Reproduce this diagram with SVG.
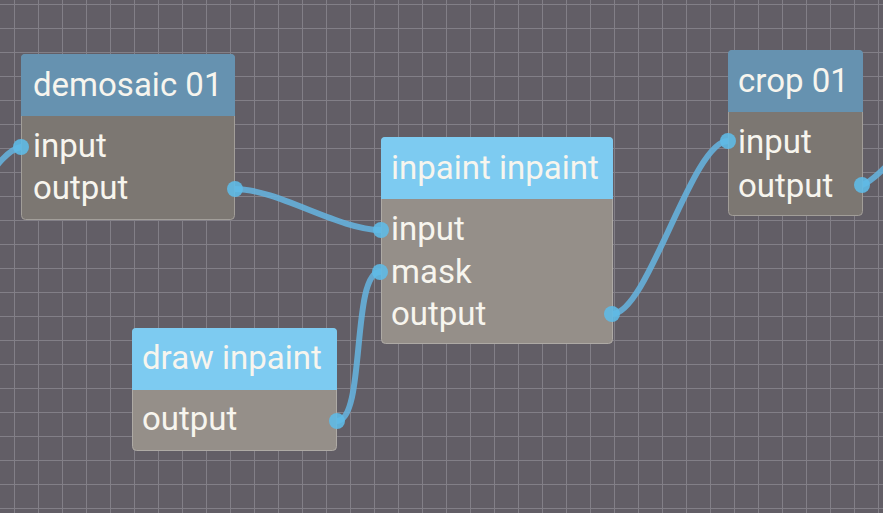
<svg xmlns="http://www.w3.org/2000/svg" width="883" height="513" viewBox="0 0 883 513">
<style>
.t{font-family:Roboto,"Noto Sans","Liberation Sans",sans-serif;font-size:33px;fill:#f7f5ee}
.hdA{fill:#6692b0}
.hdB{fill:#7dcbf1}
.bdA{fill:#7c7772;stroke:#a29e99;stroke-width:1}
.bdB{fill:#958f89;stroke:#aeaaa5;stroke-width:1}
.wire{fill:none;stroke:#65b3de;stroke-width:6;stroke-linecap:round;opacity:0.88}
.port{fill:#5fbae6;opacity:0.9}
.grid{fill:none;stroke:#827f87;stroke-width:1}
</style>
<rect width="883" height="513" fill="#625e66"/>
<path class="grid" d="M14.5 0V513M38.5 0V513M62.5 0V513M86.5 0V513M110.5 0V513M134.5 0V513M158.5 0V513M182.5 0V513M206.5 0V513M230.5 0V513M254.5 0V513M278.5 0V513M302.5 0V513M326.5 0V513M350.5 0V513M374.5 0V513M398.5 0V513M422.5 0V513M446.5 0V513M470.5 0V513M494.5 0V513M518.5 0V513M542.5 0V513M566.5 0V513M590.5 0V513M614.5 0V513M638.5 0V513M662.5 0V513M686.5 0V513M710.5 0V513M734.5 0V513M758.5 0V513M782.5 0V513M806.5 0V513M830.5 0V513M854.5 0V513M878.5 0V513M0 4.5H883M0 28.5H883M0 52.5H883M0 76.5H883M0 100.5H883M0 124.5H883M0 148.5H883M0 172.5H883M0 196.5H883M0 220.5H883M0 244.5H883M0 268.5H883M0 292.5H883M0 316.5H883M0 340.5H883M0 364.5H883M0 388.5H883M0 412.5H883M0 436.5H883M0 460.5H883M0 484.5H883M0 508.5H883"/>
<g id="connectors">
<path class="wire" d="M -30 200 C -10 175, 5 150, 21 147"/>
<path class="wire" d="M 235 189 C 278 189, 338 230, 381 230"/>
<path class="wire" d="M 337 421 C 366 421, 351 272, 380 272"/>
<path class="wire" d="M 612 314 C 648 314, 692 141, 728 141"/>
<path class="wire" d="M 862 185 C 872 182, 888 166, 910 140"/>
</g>
<g id="demosaic01">
<rect class="bdA" x="21.5" y="54.5" width="213" height="165" rx="4"/>
<path class="hdA" d="M21 116 V58 Q21 54 25 54 H231 Q235 54 235 58 V116 Z"/>
<text class="t" x="33" y="96">demosaic 01</text>
<text class="t" x="33" y="157">input</text>
<text class="t" x="33" y="199">output</text>
<circle class="port" cx="21" cy="147" r="8"/>
<circle class="port" cx="235" cy="189" r="8"/>
</g>
<g id="inpaint">
<rect class="bdB" x="381.5" y="137.5" width="231" height="206" rx="4"/>
<path class="hdB" d="M381 199 V141 Q381 137 385 137 H609 Q613 137 613 141 V199 Z"/>
<text class="t" x="391" y="179">inpaint inpaint</text>
<text class="t" x="391" y="240">input</text>
<text class="t" x="391" y="283">mask</text>
<text class="t" x="391" y="325">output</text>
<circle class="port" cx="381" cy="230" r="8"/>
<circle class="port" cx="380" cy="272" r="8"/>
<circle class="port" cx="612" cy="314" r="8"/>
</g>
<g id="crop01">
<rect class="bdA" x="728.5" y="50.5" width="134" height="165" rx="4"/>
<path class="hdA" d="M728 112 V54 Q728 50 732 50 H859 Q863 50 863 54 V112 Z"/>
<text class="t" x="738" y="92">crop 01</text>
<text class="t" x="738" y="153">input</text>
<text class="t" x="738" y="197">output</text>
<circle class="port" cx="728" cy="141" r="8"/>
<circle class="port" cx="862" cy="185" r="8"/>
</g>
<g id="drawinpaint">
<rect class="bdB" x="132.5" y="328.5" width="204" height="122" rx="4"/>
<path class="hdB" d="M132 390 V332 Q132 328 136 328 H333 Q337 328 337 332 V390 Z"/>
<text class="t" x="142" y="369">draw inpaint</text>
<text class="t" x="142" y="430">output</text>
<circle class="port" cx="337" cy="421" r="8"/>
</g>
</svg>
